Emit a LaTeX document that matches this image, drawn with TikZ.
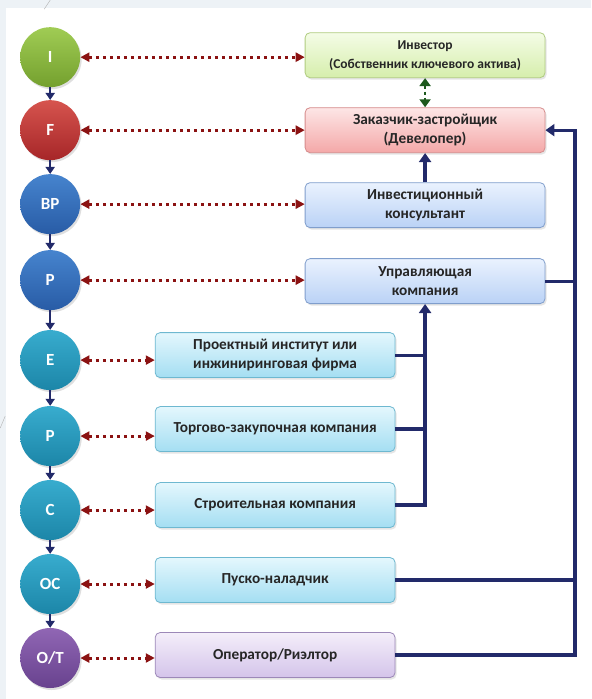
\documentclass[tikz,border=0pt]{standalone}
\usepackage{fontspec}
\setmainfont{Carlito}
\usetikzlibrary{arrows.meta,shadows}
\definecolor{bgc}{HTML}{EDF2F6}
\definecolor{navy}{HTML}{222A6A}
\definecolor{dred}{HTML}{8B1212}
\definecolor{dgreen}{HTML}{1E5A1E}
\definecolor{cgT}{RGB}{160,204,84}\definecolor{cgB}{RGB}{116,160,46}
\definecolor{crT}{RGB}{214,84,78}\definecolor{crB}{RGB}{166,38,40}
\definecolor{cbT}{RGB}{70,132,206}\definecolor{cbB}{RGB}{40,92,166}
\definecolor{ctT}{RGB}{56,172,206}\definecolor{ctB}{RGB}{28,134,168}
\definecolor{cpT}{RGB}{144,102,180}\definecolor{cpB}{RGB}{104,66,142}
\definecolor{bgD}{RGB}{176,204,128}\definecolor{bgT}{RGB}{244,252,230}\definecolor{bgB}{RGB}{214,238,172}
\definecolor{brD}{RGB}{214,140,140}\definecolor{brT}{RGB}{253,230,230}\definecolor{brB}{RGB}{244,168,168}
\definecolor{bbD}{RGB}{128,158,204}\definecolor{bbT}{RGB}{234,242,254}\definecolor{bbB}{RGB}{186,210,246}
\definecolor{btD}{RGB}{110,184,208}\definecolor{btT}{RGB}{228,247,253}\definecolor{btB}{RGB}{164,222,242}
\definecolor{bpD}{RGB}{156,136,184}\definecolor{bpT}{RGB}{244,238,250}\definecolor{bpB}{RGB}{212,196,234}
\tikzset{
  x=1pt, y=-1pt,
  stage/.style={circle, minimum size=60pt, inner sep=0pt, text=white,
    font=\bfseries\fontsize{17}{17}\selectfont,
    drop shadow={shadow xshift=1.5pt, shadow yshift=-2pt, opacity=0.25}},
  sgreen/.style={stage, top color=cgT, bottom color=cgB},
  sred/.style={stage, top color=crT, bottom color=crB},
  sblue/.style={stage, top color=cbT, bottom color=cbB},
  steal/.style={stage, top color=ctT, bottom color=ctB},
  spurple/.style={stage, top color=cpT, bottom color=cpB},
  rolebox/.style={rounded corners=5pt, minimum width=240pt, minimum height=45pt,
    align=center, inner sep=2pt, line width=0.8pt,
    font=\bfseries\fontsize{15.3}{19}\selectfont, text=black!85,
    drop shadow={shadow xshift=1.5pt, shadow yshift=-2pt, opacity=0.2}},
  bgreen/.style={rolebox, draw=bgD, top color=bgT, bottom color=bgB},
  bred/.style={rolebox, draw=brD, top color=brT, bottom color=brB},
  bblue/.style={rolebox, draw=bbD, top color=bbT, bottom color=bbB},
  bteal/.style={rolebox, draw=btD, top color=btT, bottom color=btB},
  bpurple/.style={rolebox, draw=bpD, top color=bpT, bottom color=bpB},
  flow/.style={navy, line width=2.4pt, -{Triangle[length=7pt,width=9pt]}},
  flowline/.style={navy, line width=3.2pt},
  bus/.style={navy, line width=3.2pt, -{Triangle[length=9pt,width=12pt]}},
  link/.style={dred, line width=3pt, dash pattern=on 3.5pt off 3.5pt,
    {Triangle[length=9pt,width=9pt]}-{Triangle[length=9pt,width=9pt]}},
  glink/.style={dgreen, line width=2pt, dash pattern=on 3pt off 3pt,
    {Triangle[length=8pt,width=11pt]}-{Triangle[length=8pt,width=11pt]}},
}
\begin{document}
\begin{tikzpicture}
\fill[bgc] (0,0) rectangle (591,699);
\fill[white] (6,8) rectangle (591,699);
\draw[black!30, line width=0.4pt] (50,0) -- (44,9);
\draw[black!30, line width=0.4pt] (5,416) -- (0,428);

% stages
\node[sgreen]  (sI)  at (50,57)  {I};
\node[sred]    (sF)  at (50,130) {F};
\node[sblue]   (sBP) at (50,204) {BP};
\node[sblue]   (sP)  at (50,280) {P};
\node[steal]   (sE)  at (50,360) {E};
\node[steal]   (sP2) at (50,436) {P};
\node[steal]   (sC)  at (50,510) {C};
\node[steal]   (sOC) at (50,584) {OC};
\node[spurple] (sOT) at (50,658) {O/T};

% role boxes
\node[bgreen]  (inv) at (425,55)  {{\fontsize{13.5}{17}\selectfont Инвестор}\\{\fontsize{13.5}{17}\selectfont(Собственник ключевого актива)}};
\node[bred]    (dev) at (425,130) {Заказчик-застройщик\\(Девелопер)};
\node[bblue]   (ic)  at (425,205) {Инвестиционный\\консультант};
\node[bblue]   (uk)  at (425,281) {Управляющая\\компания};
\node[bteal]   (pi)  at (275,355) {Проектный институт или\\инжиниринговая фирма};
\node[bteal]   (tz)  at (275,429) {Торгово-закупочная компания};
\node[bteal]   (sk)  at (275,505) {Строительная компания};
\node[bteal]   (pn)  at (275,580) {Пуско-наладчик};
\node[bpurple] (op)  at (275,655) {Оператор/Риэлтор};

% stage chain
\draw[flow] (sI) -- (sF);
\draw[flow] (sF) -- (sBP);
\draw[flow] (sBP) -- (sP);
\draw[flow] (sP) -- (sE);
\draw[flow] (sE) -- (sP2);
\draw[flow] (sP2) -- (sC);
\draw[flow] (sC) -- (sOC);
\draw[flow] (sOC) -- (sOT);

% dotted links
\draw[link] (sI.east) -- (sI.east -| inv.west);
\draw[link] (sF.east) -- (sF.east -| dev.west);
\draw[link] (sBP.east) -- (sBP.east -| ic.west);
\draw[link] (sP.east) -- (sP.east -| uk.west);
\draw[link] (sE.east) -- (sE.east -| pi.west);
\draw[link] (sP2.east) -- (sP2.east -| tz.west);
\draw[link] (sC.east) -- (sC.east -| sk.west);
\draw[link] (sOC.east) -- (sOC.east -| pn.west);
\draw[link] (sOT.east) -- (sOT.east -| op.west);

% investor <-> developer
\draw[glink] (inv.south) -- (dev.north);

% consultant -> developer
\draw[bus] (ic.north) -- (dev.south);

% lower group -> managing company
\draw[bus] (sk.east) -| (uk.south);
\draw[flowline] (pi.east) -- (pi.east -| uk.south);
\draw[flowline] (tz.east) -- (tz.east -| uk.south);

% right bus -> developer
\coordinate (rb) at (575,130);
\draw[bus] (op.east) -| (rb) -- (dev.east);
\draw[flowline] (pn.east) -- (pn.east -| rb);
\draw[flowline] (uk.east) -- (uk.east -| rb);
\end{tikzpicture}
\end{document}
